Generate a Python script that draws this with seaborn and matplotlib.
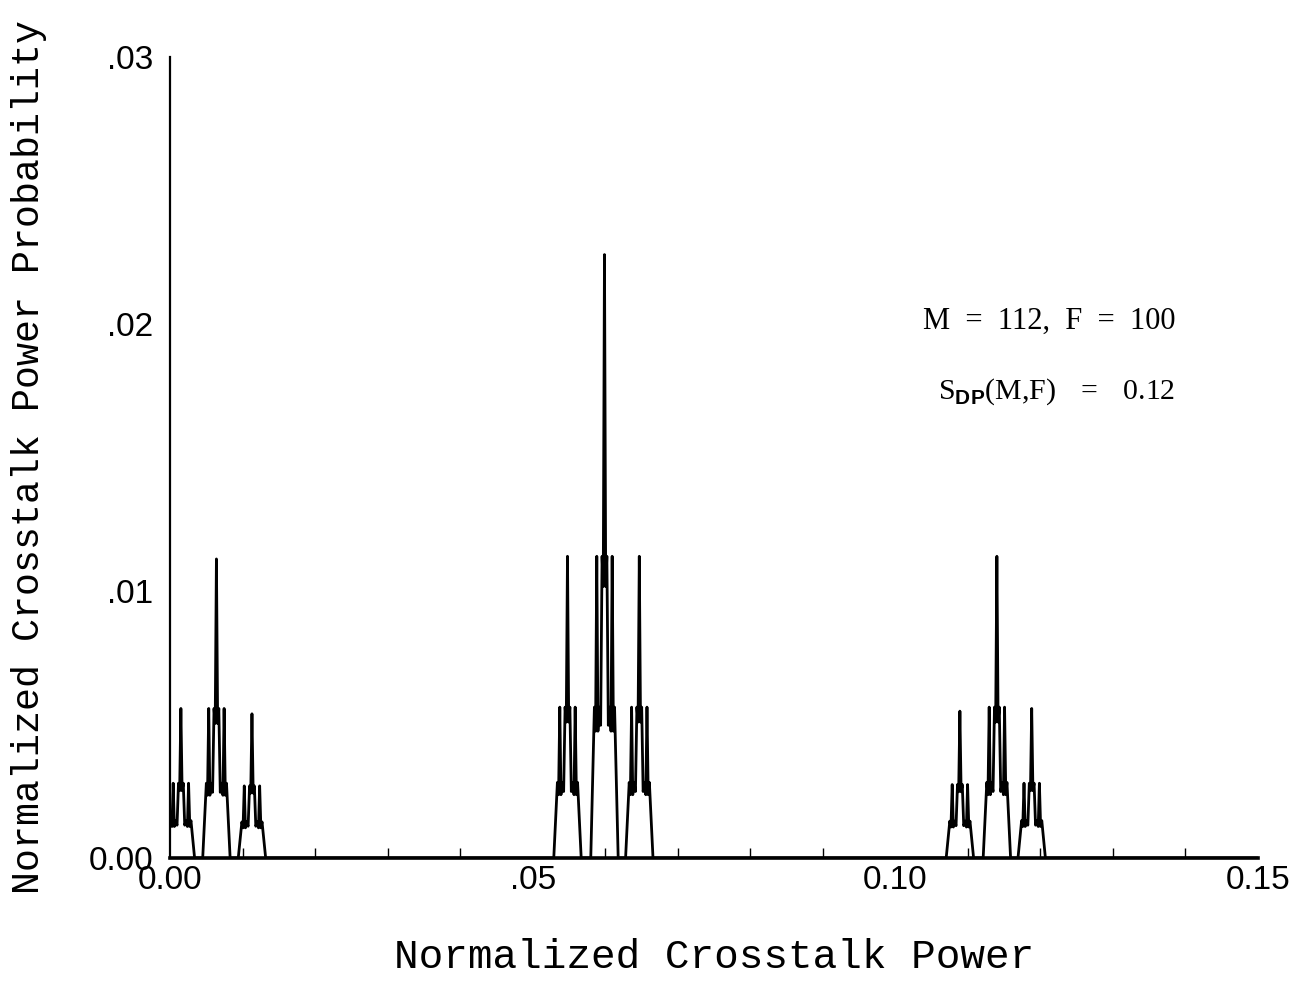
import matplotlib
matplotlib.use("Agg")
import matplotlib.pyplot as plt
import seaborn as sns
import pandas as pd
from matplotlib.ticker import FixedLocator, MultipleLocator

# ---- data (x: normalized crosstalk power, y: probability) ----
left1_x = [0.0, 0.00011, 0.00027, 0.00044, 0.00060, 0.00077, 0.00097, 0.00117, 0.00133, 0.0015,
           0.00167, 0.00183, 0.00203, 0.00223, 0.0024, 0.00256, 0.00273, 0.00289, 0.00339]
left1_y = [0.0012, 0.0014, 0.00118, 0.0028, 0.00118, 0.0014, 0.00123, 0.0028, 0.00252, 0.0056,
           0.00252, 0.0028, 0.00123, 0.0014, 0.00118, 0.0028, 0.00118, 0.0014, 0.0]
left2_x = [0.00451, 0.00501, 0.00517, 0.00534, 0.0055, 0.00567, 0.00587, 0.00607, 0.00623, 0.0064,
           0.00657, 0.00673, 0.00693, 0.00713, 0.0073, 0.00746, 0.00763, 0.00779, 0.00829]
left2_y = [0.0, 0.0028, 0.00235, 0.0056, 0.00235, 0.0028, 0.00246, 0.0056, 0.00504, 0.0112,
           0.00504, 0.0056, 0.00246, 0.0028, 0.00235, 0.0056, 0.00235, 0.0028, 0.0]
left3_x = [0.00941, 0.00991, 0.01007, 0.01024, 0.0104, 0.01057, 0.01077, 0.01097, 0.01113, 0.0113,
           0.01147, 0.01163, 0.01183, 0.01203, 0.0122, 0.01236, 0.01253, 0.01269, 0.01319]
left3_y = [0.0, 0.00135, 0.00113, 0.0027, 0.00113, 0.00135, 0.00119, 0.0027, 0.00243, 0.0054,
           0.00243, 0.0027, 0.00119, 0.00135, 0.00113, 0.0027, 0.00113, 0.00135, 0.0]

mid1_x = [0.05291, 0.05341, 0.05357, 0.05374, 0.0539, 0.05407, 0.05427, 0.05447, 0.05463, 0.0548,
          0.05497, 0.05513, 0.05533, 0.05553, 0.0557, 0.05586, 0.05603, 0.05619, 0.05669]
mid1_y = [0.0, 0.00283, 0.00237, 0.00565, 0.00237, 0.00283, 0.00249, 0.00565, 0.00509, 0.0113,
          0.00509, 0.00565, 0.00249, 0.00283, 0.00237, 0.00565, 0.00237, 0.00283, 0.0]
mid2_x = [0.05801, 0.05851, 0.05867, 0.05884, 0.059, 0.05917, 0.05937, 0.05957, 0.05973, 0.0599,
          0.06007, 0.06023, 0.06043, 0.06063, 0.0608, 0.06096, 0.06113, 0.06129, 0.06179]
mid2_y = [0.0, 0.00565, 0.00475, 0.0113, 0.00475, 0.00565, 0.00497, 0.0113, 0.01017, 0.0226,
          0.01017, 0.0113, 0.00497, 0.00565, 0.00475, 0.0113, 0.00475, 0.00565, 0.0]
mid3_x = [0.06281, 0.06331, 0.06347, 0.06364, 0.0638, 0.06397, 0.06417, 0.06437, 0.06453, 0.0647,
          0.06487, 0.06503, 0.06523, 0.06543, 0.0656, 0.06576, 0.06593, 0.06609, 0.06659]
mid3_y = [0.0, 0.00283, 0.00237, 0.00565, 0.00237, 0.00283, 0.00249, 0.00565, 0.00509, 0.0113,
          0.00509, 0.00565, 0.00249, 0.00283, 0.00237, 0.00565, 0.00237, 0.00283, 0.0]

right1_x = [0.10701, 0.10751, 0.10767, 0.10784, 0.108, 0.10817, 0.10837, 0.10857, 0.10873, 0.1089,
            0.10907, 0.10923, 0.10943, 0.10963, 0.1098, 0.10996, 0.11013, 0.11029, 0.11079]
right1_y = [0.0, 0.00138, 0.00116, 0.00275, 0.00116, 0.00138, 0.00121, 0.00275, 0.00248, 0.0055,
            0.00248, 0.00275, 0.00121, 0.00138, 0.00116, 0.00275, 0.00116, 0.00138, 0.0]
right2_x = [0.11211, 0.11261, 0.11277, 0.11294, 0.1131, 0.11327, 0.11347, 0.11367, 0.11383, 0.114,
            0.11417, 0.11433, 0.11453, 0.11473, 0.1149, 0.11506, 0.11523, 0.11539, 0.11589]
right2_y = [0.0, 0.00283, 0.00237, 0.00565, 0.00237, 0.00283, 0.00249, 0.00565, 0.00509, 0.0113,
            0.00509, 0.00565, 0.00249, 0.00283, 0.00237, 0.00565, 0.00237, 0.00283, 0.0]
right3_x = [0.11691, 0.11741, 0.11757, 0.11774, 0.1179, 0.11807, 0.11827, 0.11847, 0.11863, 0.1188,
            0.11897, 0.11913, 0.11933, 0.11953, 0.1197, 0.11986, 0.12003, 0.12019, 0.12069]
right3_y = [0.0, 0.0014, 0.00118, 0.0028, 0.00118, 0.0014, 0.00123, 0.0028, 0.00252, 0.0056,
            0.00252, 0.0028, 0.00123, 0.0014, 0.00118, 0.0028, 0.00118, 0.0014, 0.0]

tail_x = [0.15]
tail_y = [0.0]

x_ticks = [0.0, 0.05, 0.10, 0.15]
x_ticklabels = ["0.00", ".05", "0.10", "0.15"]
y_ticks = [0.0, 0.01, 0.02, 0.03]
y_ticklabels = ["0.00", ".01", ".02", ".03"]

x_label = "Normalized Crosstalk Power"
y_label = "Normalized Crosstalk Power Probability"
note1 = "M  =  112,  F  =  100"
note2 = r"$\mathrm{S}_{\mathbf{DP}}\mathrm{(M{,}F)\ \ =\ \ 0.12}$"

# ---- build table ----
xs = (left1_x + left2_x + left3_x + mid1_x + mid2_x + mid3_x
      + right1_x + right2_x + right3_x + tail_x)
ys = (left1_y + left2_y + left3_y + mid1_y + mid2_y + mid3_y
      + right1_y + right2_y + right3_y + tail_y)
df = pd.DataFrame({"power": xs, "prob": ys})

# ---- style ----
sns.set_theme(style="white")
plt.rcParams["font.family"] = ["Liberation Sans", "DejaVu Sans"]
plt.rcParams["mathtext.fontset"] = "custom"
plt.rcParams["mathtext.rm"] = "Liberation Serif"
plt.rcParams["mathtext.bf"] = "Liberation Sans:bold"

fig = plt.figure(figsize=(13.13, 9.81), dpi=100)
ax = fig.add_axes([170 / 1313, 1 - 858 / 981, 1088 / 1313, (858 - 57) / 981])

sns.lineplot(data=df, x="power", y="prob", sort=False, estimator=None,
             color="black", linewidth=2.0, ax=ax)

ax.set_xlim(0.0, 0.15)
ax.set_ylim(0.0, 0.03)
for side in ["top", "right"]:
    ax.spines[side].set_visible(False)
ax.spines["left"].set_linewidth(1.6)
ax.spines["bottom"].set_linewidth(2.6)
ax.spines["left"].set_color("black")
ax.spines["bottom"].set_color("black")

ax.xaxis.set_major_locator(FixedLocator(x_ticks))
ax.set_xticklabels(x_ticklabels)
ax.xaxis.set_minor_locator(MultipleLocator(0.01))
ax.yaxis.set_major_locator(FixedLocator(y_ticks))
ax.set_yticklabels(y_ticklabels)

ax.tick_params(axis="both", which="major", direction="in", length=11, width=1.2,
               color="black", labelsize=24, labelcolor="black")
ax.tick_params(axis="x", which="major", pad=5)
ax.tick_params(axis="y", which="major", pad=12)
ax.tick_params(axis="x", which="minor", direction="in", length=7, width=1.0,
               color="black", bottom=True)

ax.set_xlabel(x_label, family="Liberation Mono", fontsize=29.5, color="black", labelpad=30)
ax.set_ylabel(y_label, family="Liberation Mono", fontsize=27.5, color="black", labelpad=30)

ax.text(0.13857, 0.0201, note1, family="Liberation Serif", fontsize=22,
        ha="right", va="center", color="black")
ax.text(0.13857, 0.01745, note2, fontsize=21.5, ha="right", va="center", color="black")

fig.savefig("out.png", dpi=100, facecolor="white")
